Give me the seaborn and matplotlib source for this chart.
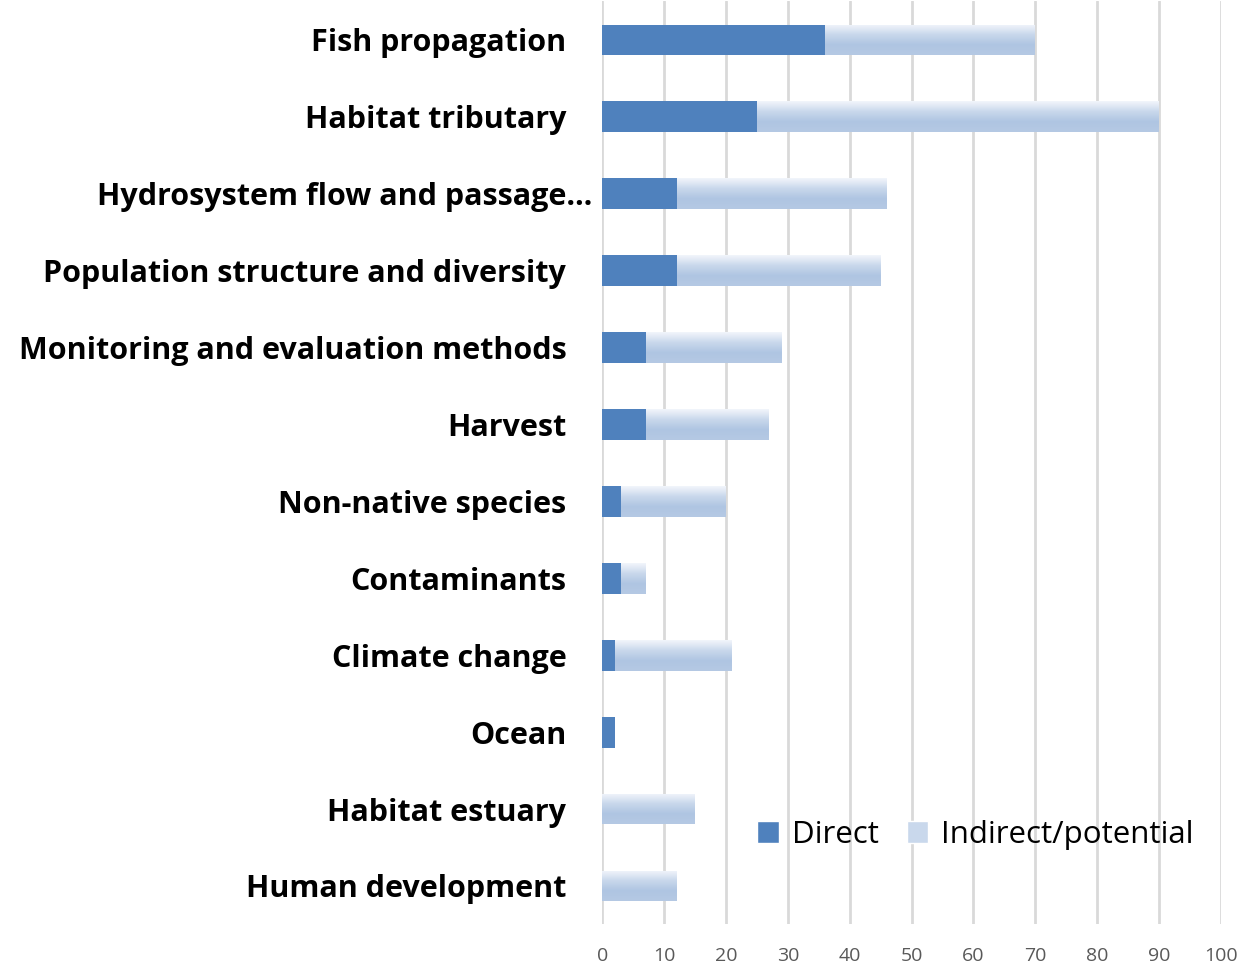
import matplotlib
matplotlib.use('Agg')
import matplotlib.pyplot as plt
import matplotlib.colors as mcolors
import matplotlib.transforms as mtransforms
from matplotlib.patches import Patch
import seaborn as sns
import pandas as pd
import numpy as np

categories = ['Fish propagation', 'Habitat tributary', 'Hydrosystem flow and passage\u2026',
              'Population structure and diversity', 'Monitoring and evaluation methods',
              'Harvest', 'Non-native species', 'Contaminants', 'Climate change', 'Ocean',
              'Habitat estuary', 'Human development']
direct = [36, 25, 12, 12, 7, 7, 3, 3, 2, 2, 0, 0]
indirect = [34, 65, 34, 33, 22, 20, 17, 4, 19, 0, 15, 12]
x_ticks = [0, 10, 20, 30, 40, 50, 60, 70, 80, 90, 100]

df = pd.DataFrame({'category': categories, 'direct': direct, 'indirect': indirect})
df['total'] = df['direct'] + df['indirect']

sns.set_style('white')
plt.rcParams['font.family'] = ['Open Sans', 'DejaVu Sans']

blue = '#4F81BD'
fig = plt.figure(figsize=(12.42, 9.68), dpi=100)
ax = fig.add_axes([0.485, 0.045, 0.498, 0.9535])

# indirect/potential drawn as full total bar, then gradient fill clipped to it
sns.barplot(data=df, x='total', y='category', color='#B9CDE5', width=0.4,
            saturation=1, linewidth=0, ax=ax, zorder=2)
tot_patches = list(ax.patches)
grad = mcolors.LinearSegmentedColormap.from_list(
    'g', ['#F2F5FB', '#C9D8EC', '#AFC5E2', '#B5C9E4'])
img = np.linspace(0, 1, 64).reshape(-1, 1)
for p in tot_patches:
    if p.get_width() <= 0:
        continue
    x0, y0 = p.get_x(), p.get_y()
    w, h = p.get_width(), p.get_height()
    im = ax.imshow(img, cmap=grad, aspect='auto', extent=(x0, x0 + w, y0 + h, y0),
                   zorder=2.5, interpolation='bilinear')
    im.set_clip_path(p)

sns.barplot(data=df, x='direct', y='category', color=blue, width=0.4,
            saturation=1, linewidth=0, ax=ax, zorder=3)

ax.set_xlim(0, 100)
ax.set_ylim(len(categories) - 0.5, -0.5)
ax.set_xticks(x_ticks)
ax.set_xticklabels([str(t) for t in x_ticks], color='#595959', fontsize=14)
ax.xaxis.grid(True, color='#D9D9D9', linewidth=2, zorder=0)
ax.set_axisbelow(True)
ax.tick_params(axis='both', length=0)
ax.tick_params(axis='x', pad=16)
ax.tick_params(axis='y', pad=26)
for lab in ax.get_yticklabels():
    lab.set_fontweight('bold')
    lab.set_fontsize(22)
    lab.set_color('black')
    if lab.get_text().startswith('Hydrosystem'):
        lab.set_transform(lab.get_transform() +
                          mtransforms.ScaledTranslation(0.26, 0, fig.dpi_scale_trans))
ax.set_xlabel('')
ax.set_ylabel('')
for s in ax.spines.values():
    s.set_visible(False)

handles = [Patch(facecolor=blue, label='Direct'),
           Patch(facecolor='#C9D8EC', label='Indirect/potential')]
ax.legend(handles=handles, loc='lower right', bbox_to_anchor=(1.001, 0.05), ncol=2,
          frameon=False, fontsize=22.5, handlelength=0.7, handleheight=0.7,
          handletextpad=0.4, columnspacing=0.9, labelcolor='black')

fig.savefig('out.png', dpi=100)
